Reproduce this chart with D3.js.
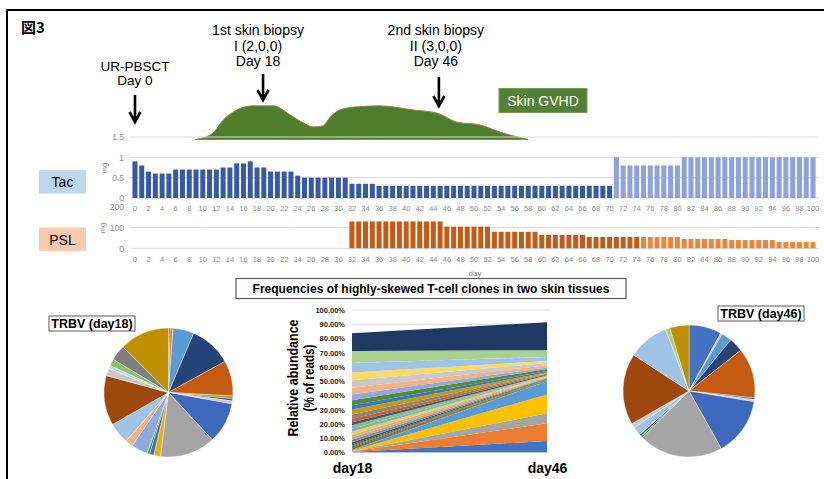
<!DOCTYPE html>
<html>
<head>
<meta charset="utf-8">
<script src="https://cdn.jsdelivr.net/npm/d3@7"></script>
<style>
  body { margin: 0; background: #fff; }
  svg { display: block; font-family: "Liberation Sans", Arial, sans-serif; }
</style>
</head>
<body>
<div id="fig"></div>
<script>
// ---- data ---------------------------------------------------------------------------------------------------------
const days = d3.range(0, 101);
const dayTicks = [0, 2, 4, 6, 8, 10, 12, 14, 16, 18, 20, 22, 24, 26, 28, 30, 32, 34, 36, 38, 40, 42, 44, 46, 48, 50,
  52, 54, 56, 58, 60, 62, 64, 66, 68, 70, 72, 74, 76, 78, 80, 82, 84, 86, 88, 90, 92, 94, 96, 98, 100];

// Tacrolimus dose (mg), day 0..100
const tacDoses = [
  0.9, 0.8, 0.65, 0.6, 0.6, 0.6, 0.7, 0.7, 0.7, 0.7, 0.7, 0.7, 0.7, 0.75, 0.75, 0.85, 0.85, 0.9, 0.75, 0.75,
  0.65, 0.65, 0.65, 0.65, 0.55, 0.5, 0.5, 0.5, 0.5, 0.5, 0.5, 0.5, 0.35, 0.35, 0.35, 0.35, 0.3, 0.3, 0.3, 0.3,
  0.3, 0.3, 0.3, 0.3, 0.3, 0.3, 0.3, 0.3, 0.3, 0.3, 0.3, 0.3, 0.3, 0.3, 0.3, 0.3, 0.3, 0.3, 0.3, 0.3,
  0.3, 0.3, 0.3, 0.3, 0.3, 0.3, 0.3, 0.3, 0.3, 0.3, 0.3, 1.0, 0.8, 0.8, 0.8, 0.8, 0.8, 0.8, 0.8, 0.8,
  0.8, 1.0, 1.0, 1.0, 1.0, 1.0, 1.0, 1.0, 1.0, 1.0, 1.0, 1.0, 1.0, 1.0, 1.0, 1.0, 1.0, 1.0, 1.0, 1.0, 1.0
];
const tacTicks = [0, 0.5, 1, 1.5];
const tacSwitchDay = 71;

// Prednisolone dose (mg), day 0..100
const pslDoses = [
  0, 0, 0, 0, 0, 0, 0, 0, 0, 0, 0, 0, 0, 0, 0, 0, 0, 0, 0, 0,
  0, 0, 0, 0, 0, 0, 0, 0, 0, 0, 0, 0, 130, 130, 130, 130, 130, 130, 130, 130,
  130, 130, 130, 130, 130, 130, 105, 105, 105, 105, 105, 105, 105, 80, 80, 80, 80, 80, 80, 80,
  65, 65, 65, 65, 65, 65, 65, 55, 55, 55, 55, 55, 55, 55, 55, 55, 55, 55, 55, 55,
  55, 45, 45, 45, 45, 45, 45, 45, 40, 40, 40, 40, 40, 40, 40, 30, 30, 30, 30, 30, 30
];
const pslTicks = [0, 100, 200];
const pslSwitchDay = 75;

// Skin GVHD activity (relative)
const gvhdDays = [8.9, 11.5, 13, 14.5, 17.4, 20.4, 22.9, 24.8, 26.3, 27.7, 28.8, 30.2, 32.7, 36.1, 41, 44.5, 47.5,
  50.9, 53.8, 58];
const gvhdLevels = [0, 0.19, 0.57, 0.81, 0.99, 0.99, 0.72, 0.49, 0.37, 0.40, 0.66, 0.87, 0.96, 0.99, 0.87, 0.78,
  0.51, 0.43, 0.22, 0];

const eventDays = [0, 18, 46];
const eventLabels = [
  ["UR-PBSCT", "Day 0"],
  ["1st skin biopsy", "I (2,0,0)", "Day 18"],
  ["2nd skin biopsy", "II (3,0,0)", "Day 46"]
];

// Highly-skewed clones, % of reads (bottom to top)
const cloneDays = ["day18", "day46"];
const cloneDay18 = [0.2, 0.3, 0.3, 0.3, 0.4, 0.4, 0.6, 0.7, 0.8, 0.8, 0.9, 1.3, 1.8, 1.8, 1.8, 2.0, 2.2, 2.4,
  2.2, 2.4, 3.0, 3.4, 3.0, 3.6, 4.0, 4.8, 5.2, 5.4, 6.8, 8.4, 12.4];
const cloneDay46 = [8.0, 12.4, 7.0, 13.3, 9.3, 0.3, 0.2, 0.3, 0.2, 0.3, 0.2, 0.3, 0.4, 0.5, 0.3, 0.5, 0.3, 0.4,
  0.4, 0.6, 0.3, 0.8, 0.8, 1.5, 1.0, 1.6, 1.5, 1.5, 2.8, 4.8, 19.6];
const cloneColors = ["#4472C4", "#ED7D31", "#A5A5A5", "#FFC000", "#5B9BD5", "#70AD47",
  "#264478", "#9E480E", "#636363", "#997300", "#255E91", "#43682B",
  "#698ED0", "#F1975A", "#B7B7B7", "#FFCD33", "#7CAFDD", "#8CC168",
  "#335AA1", "#D26012", "#848484", "#CC9A00", "#327DC2", "#5A8A39",
  "#8FAADC", "#F4B183", "#C9C9C9", "#FFD966", "#9DC3E6", "#A9D18E", "#203864"];
const abundanceTicks = [0, 10, 20, 30, 40, 50, 60, 70, 80, 90, 100];

// TRBV usage pies (%), clockwise from 12 o'clock
const trbv18 = [0.4, 0.7, 5.3, 10.6, 8.9, 0.7, 0.55, 0.7, 10.3, 13.9, 1.7, 1.1, 0.55, 4.2, 1.9, 5.3, 12.5, 1.9,
  0.8, 1.7, 3.9, 12.5];
const trbv18Colors = ["#2F5597", "#ED7D31", "#5B9BD5", "#264478", "#C55A11", "#BF9000", "#255E91", "#C9C9C9",
  "#3F69BC", "#A5A5A5", "#E8AE10", "#2E75B6", "#548235", "#8FAADC", "#F4B183", "#9DC3E6", "#9E480E", "#C9C9C9",
  "#BDD7EE", "#8CC168", "#7F7F7F", "#BF9000"];
const trbv46 = [8.0, 0.4, 2.5, 3.5, 12.3, 0.4, 0.5, 14.3, 20.6, 0.5, 0.55, 2.1, 1.1, 17.5, 10, 1.1, 4.7];
const trbv46Colors = ["#4472C4", "#F4B183", "#5B9BD5", "#264478", "#C55A11", "#255E91", "#C9C9C9", "#3F69BC",
  "#A5A5A5", "#70AD47", "#2E75B6", "#9DC3E6", "#C9C9C9", "#9E480E", "#9DC3E6", "#A9D18E", "#BF9000"];

// ---- canvas -------------------------------------------------------------------------------------------------------
const canvasWidth = 824;
const canvasHeight = 479;
const svg = d3.select("#fig").append("svg")
  .attr("width", canvasWidth)
  .attr("height", canvasHeight);

const tickColor = "#8c8c8c";
const gridColor = "#d9d9d9";

// frame
svg.append("path")
  .attr("d", "M7," + canvasHeight + "V10H" + canvasWidth)
  .attr("fill", "none")
  .attr("stroke", "#000")
  .attr("stroke-width", 2);

svg.append("text")
  .attr("x", 21).attr("y", 33)
  .style("font-family", "'Noto Sans CJK JP', sans-serif")
  .style("font-weight", "bold")
  .style("font-size", "15px")
  .text("図3");

// ---- day scales ---------------------------------------------------------------------------------------------------
const dayBand = d3.scaleBand()
  .domain(days)
  .range([131.6, 816.4])
  .paddingInner(0.26)
  .paddingOuter(0.13);
const dayX = d3.scaleLinear()
  .domain([0, 100])
  .range([dayBand(0) + dayBand.bandwidth() / 2, dayBand(100) + dayBand.bandwidth() / 2]);

const gridLeft = 130;
const gridRight = 819;

// ---- GVHD area + events -------------------------------------------------------------------------------------------
const gvhdY = d3.scaleLinear().domain([0, 1]).range([139.5, 105.5]);
svg.append("path")
  .datum(d3.zip(gvhdDays, gvhdLevels))
  .attr("d", d3.area()
    .x(d => dayX(d[0]))
    .y0(gvhdY(0))
    .y1(d => gvhdY(d[1]))
    .curve(d3.curveMonotoneX))
  .attr("fill", "#4f7d2c")
  .attr("stroke", "#a08050")
  .attr("stroke-width", 1);

const gvhdKey = svg.append("g").attr("transform", "translate(499,88.5)");
gvhdKey.append("rect")
  .attr("width", 88).attr("height", 24)
  .attr("fill", "#548235")
  .attr("stroke", "#7a9a5a");
gvhdKey.append("text")
  .attr("x", 44).attr("y", 17)
  .attr("text-anchor", "middle")
  .attr("fill", "#fff")
  .style("font-size", "14px")
  .text("Skin GVHD");

// small nudges so labels/arrows sit where the original figure put them
const eventTextNudge = [0, 1, -11];
const eventArrowNudge = [0, 6, -8];
const eventTextTop = [70.5, 35, 35];
const eventArrowTop = [95, 74, 77];
const eventArrowBottom = [122, 100, 106];
const eventLineGap = [14, 15.5, 15.5];
const eventFontSize = ["13.5px", "14px", "14px"];

eventDays.forEach(function(day, i) {
  const g = svg.append("g");
  g.selectAll("text")
    .data(eventLabels[i])
    .join("text")
    .attr("x", dayX(day) + eventTextNudge[i])
    .attr("y", (d, j) => eventTextTop[i] + j * eventLineGap[i])
    .attr("text-anchor", "middle")
    .style("font-size", eventFontSize[i])
    .text(d => d);
  const ax = dayX(day) + eventArrowNudge[i];
  const top = eventArrowTop[i];
  const bot = eventArrowBottom[i];
  g.append("path")
    .attr("d", "M" + ax + "," + top + "V" + (bot - 1) + "M" + (ax - 5.5) + "," + (bot - 10) + "L" + ax + "," + bot +
      "L" + (ax + 5.5) + "," + (bot - 10))
    .attr("fill", "none")
    .attr("stroke", "#000")
    .attr("stroke-width", 2.6);
});

// ---- bar panels ---------------------------------------------------------------------------------------------------
function drawPanel(values, ticks, yRange, darkColor, lightColor, switchDay, gridTicks, mgPos) {
  const yScale = d3.scaleLinear().domain([ticks[0], ticks[ticks.length - 1]]).range(yRange);
  const g = svg.append("g");

  g.selectAll("line.grid")
    .data(gridTicks)
    .join("line")
    .attr("class", "grid")
    .attr("x1", gridLeft).attr("x2", gridRight)
    .attr("y1", d => yScale(d)).attr("y2", d => yScale(d))
    .attr("stroke", gridColor)
    .attr("stroke-width", 1);

  g.selectAll("rect")
    .data(days.filter(d => values[d] > 0))
    .join("rect")
    .attr("x", d => dayBand(d))
    .attr("width", dayBand.bandwidth())
    .attr("y", d => yScale(values[d]))
    .attr("height", d => yScale(0) - yScale(values[d]))
    .attr("fill", d => d >= switchDay ? lightColor : darkColor);

  const yAxis = g.append("g")
    .attr("transform", "translate(" + gridLeft + ",0)")
    .call(d3.axisLeft(yScale).tickValues(ticks).tickFormat(d3.format("")).tickSize(0).tickPadding(6));
  yAxis.select(".domain").remove();
  yAxis.selectAll("text")
    .attr("fill", tickColor)
    .style("font-size", "8.5px")
    .style("font-family", "'Liberation Sans', Arial, sans-serif");

  const xAxis = g.append("g")
    .attr("transform", "translate(0," + yScale(0) + ")")
    .call(d3.axisBottom(dayBand).tickValues(dayTicks).tickSize(0).tickPadding(8));
  xAxis.select(".domain").remove();
  xAxis.selectAll("text")
    .attr("fill", tickColor)
    .style("font-size", "7.5px")
    .style("font-family", "'Liberation Sans', Arial, sans-serif");

  g.append("text")
    .attr("transform", "translate(" + mgPos[0] + "," + mgPos[1] + ") rotate(-90)")
    .attr("text-anchor", "middle")
    .attr("fill", tickColor)
    .style("font-size", "7.5px")
    .text("mg");
}

drawPanel(tacDoses, tacTicks, [198, 137], "#3759A6", "#8CA2DA", tacSwitchDay, tacTicks, [107, 168]);
drawPanel(pslDoses, pslTicks, [248.3, 207], "#C55A16", "#EE8436", pslSwitchDay, [0, 100], [105, 228]);

svg.append("text")
  .attr("x", 475).attr("y", 276)
  .attr("text-anchor", "middle")
  .attr("fill", tickColor)
  .style("font-size", "8px")
  .text("day");

// drug labels
const drugBoxes = [
  { name: "Tac", y: 170, fill: "#BDD7EE" },
  { name: "PSL", y: 227.5, fill: "#F8CBAD" }
];
drugBoxes.forEach(function(b) {
  svg.append("rect")
    .attr("x", 39).attr("y", b.y)
    .attr("width", 47).attr("height", 23.5)
    .attr("fill", b.fill);
  svg.append("text")
    .attr("x", 62.5).attr("y", b.y + 17)
    .attr("text-anchor", "middle")
    .style("font-size", "14px")
    .text(b.name);
});

// ---- clone frequency panel ----------------------------------------------------------------------------------------
const titleBox = svg.append("g").attr("transform", "translate(236,278.5)");
titleBox.append("rect")
  .attr("width", 390).attr("height", 20)
  .attr("fill", "#fff")
  .attr("stroke", "#595959")
  .attr("stroke-width", 1.2);
titleBox.append("text")
  .attr("x", 195).attr("y", 14.5)
  .attr("text-anchor", "middle")
  .style("font-weight", "bold")
  .style("font-size", "12px")
  .text("Frequencies of highly-skewed T-cell clones in two skin tissues");

const abX = d3.scalePoint().domain(cloneDays).range([352, 547]);
const abY = d3.scaleLinear().domain([0, 100]).range([452.3, 310]);

svg.append("g")
  .selectAll("line")
  .data(abundanceTicks)
  .join("line")
  .attr("x1", 352).attr("x2", 549)
  .attr("y1", d => abY(d)).attr("y2", d => abY(d))
  .attr("stroke", gridColor);

const stackRows = [cloneDay18, cloneDay46];
const series = d3.stack()
  .keys(d3.range(cloneDay18.length))
  .value((row, k) => row[k])(stackRows);

svg.append("g")
  .selectAll("path")
  .data(series)
  .join("path")
  .attr("d", d3.area()
    .x((d, i) => abX(cloneDays[i]))
    .y0(d => abY(d[0]))
    .y1(d => abY(d[1])))
  .attr("fill", (d, i) => cloneColors[i]);

const abAxis = svg.append("g")
  .attr("transform", "translate(351,0)")
  .call(d3.axisLeft(abY).tickValues(abundanceTicks).tickFormat(d => d.toFixed(2) + "%").tickSize(0).tickPadding(6));
abAxis.select(".domain").remove();
abAxis.selectAll("text")
  .attr("fill", "#262626")
  .style("font-weight", "bold")
  .style("font-size", "7.5px")
  .style("font-family", "'Liberation Sans', Arial, sans-serif");

const dayAxis = svg.append("g")
  .attr("transform", "translate(0,463)")
  .call(d3.axisBottom(abX).tickSize(0).tickPadding(0));
dayAxis.select(".domain").remove();
dayAxis.selectAll("text")
  .attr("fill", "#000")
  .style("font-weight", "bold")
  .style("font-size", "14px")
  .style("font-family", "'Liberation Sans', Arial, sans-serif");

const abTitle = ["Relative abundance", "(% of reads)"];
const abTitleLength = [117, 67];
svg.selectAll("text.abtitle")
  .data(abTitle)
  .join("text")
  .attr("class", "abtitle")
  .attr("transform", (d, i) => "translate(" + (298 + i * 16) + ",378) rotate(-90)")
  .attr("text-anchor", "middle")
  .attr("textLength", (d, i) => abTitleLength[i])
  .attr("lengthAdjust", "spacingAndGlyphs")
  .style("font-weight", "bold")
  .style("font-size", "15px")
  .text(d => d);

// ---- TRBV pies ----------------------------------------------------------------------------------------------------
function drawPie(values, colors, cx, cy, r, label, lx, ly) {
  const arcs = d3.pie().sort(null).value(d => d)(values);
  svg.append("g")
    .attr("transform", "translate(" + cx + "," + cy + ")")
    .selectAll("path")
    .data(arcs)
    .join("path")
    .attr("d", d3.arc().innerRadius(0).outerRadius(r))
    .attr("fill", (d, i) => colors[i])
    .attr("stroke", "#fff")
    .attr("stroke-width", 0.4);

  const box = svg.append("g").attr("transform", "translate(" + lx + "," + ly + ")");
  box.append("rect")
    .attr("width", 86).attr("height", 15)
    .attr("fill", "#fff")
    .attr("stroke", "#595959");
  box.append("text")
    .attr("x", 43).attr("y", 12)
    .attr("text-anchor", "middle")
    .style("font-weight", "bold")
    .style("font-size", "12.5px")
    .text(label);
}

drawPie(trbv18, trbv18Colors, 168.5, 392.5, 64.5, "TRBV (day18)", 49, 316);
drawPie(trbv46, trbv46Colors, 689, 391, 66, "TRBV (day46)", 718, 306);
</script>
</body>
</html>
